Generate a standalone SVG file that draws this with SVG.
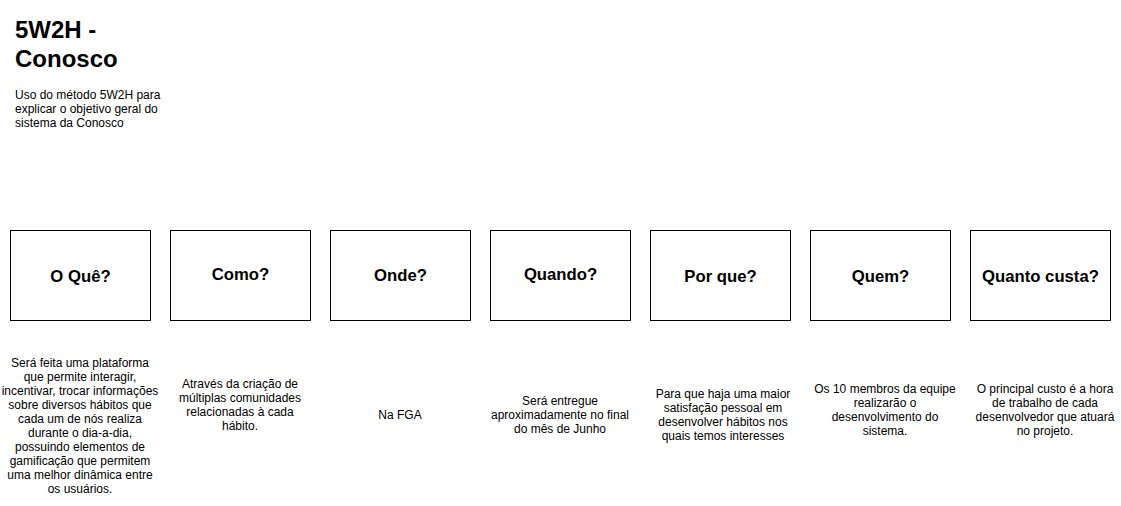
<svg xmlns="http://www.w3.org/2000/svg" width="1121" height="506" viewBox="0 0 1121 506">
<style>
text{font-family:"Liberation Sans",Arial,sans-serif;fill:#000}
.t{font-size:24px;font-weight:bold}
.d{font-size:12px}
.box{fill:#fff;stroke:#000;stroke-width:1}
.lbl{font-size:16.7px;font-weight:bold;text-anchor:middle}
.b{font-size:12px;text-anchor:middle}
</style>
<rect width="1121" height="506" fill="#fff"/>
<g id="title">
<text class="t" x="15" y="38">5W2H -</text>
<text class="t" x="15" y="67">Conosco</text>
<text class="d" x="15" y="99">Uso do método 5W2H para</text>
<text class="d" x="15" y="113">explicar o objetivo geral do</text>
<text class="d" x="15" y="127">sistema da Conosco</text>
</g>
<g id="connectors"></g>
<g id="oque">
<rect class="box" x="10.5" y="230.5" width="140" height="90"/>
<text class="lbl" x="80.5" y="282">O Quê?</text>
</g>
<g id="como">
<rect class="box" x="170.5" y="230.5" width="140" height="90"/>
<text class="lbl" x="240.5" y="280">Como?</text>
</g>
<g id="onde">
<rect class="box" x="330.5" y="230.5" width="140" height="90"/>
<text class="lbl" x="400.5" y="281">Onde?</text>
</g>
<g id="quando">
<rect class="box" x="490.5" y="230.5" width="140" height="90"/>
<text class="lbl" x="560.5" y="280">Quando?</text>
</g>
<g id="porque">
<rect class="box" x="650.5" y="230.5" width="140" height="90"/>
<text class="lbl" x="720.5" y="282">Por que?</text>
</g>
<g id="quem">
<rect class="box" x="810.5" y="230.5" width="140" height="90"/>
<text class="lbl" x="880.5" y="282">Quem?</text>
</g>
<g id="quanto">
<rect class="box" x="970.5" y="230.5" width="140" height="90"/>
<text class="lbl" x="1040.5" y="282">Quanto custa?</text>
</g>
<g id="oque-desc">
<text class="b" x="80" y="367">Será feita uma plataforma</text>
<text class="b" x="80" y="381">que permite interagir,</text>
<text class="b" x="80" y="395">incentivar, trocar informações</text>
<text class="b" x="80" y="409">sobre diversos hábitos que</text>
<text class="b" x="80" y="423">cada um de nós realiza</text>
<text class="b" x="80" y="437">durante o dia-a-dia,</text>
<text class="b" x="80" y="451">possuindo elementos de</text>
<text class="b" x="80" y="465">gamificação que permitem</text>
<text class="b" x="80" y="479">uma melhor dinâmica entre</text>
<text class="b" x="80" y="493">os usuários.</text>
</g>
<g id="como-desc">
<text class="b" x="240" y="388">Através da criação de</text>
<text class="b" x="240" y="402">múltiplas comunidades</text>
<text class="b" x="240" y="416">relacionadas à cada</text>
<text class="b" x="240" y="430">hábito.</text>
</g>
<g id="onde-desc">
<text class="b" x="400" y="419">Na FGA</text>
</g>
<g id="quando-desc">
<text class="b" x="560" y="405">Será entregue</text>
<text class="b" x="560" y="419">aproximadamente no final</text>
<text class="b" x="560" y="433">do mês de Junho</text>
</g>
<g id="porque-desc">
<text class="b" x="723" y="398">Para que haja uma maior</text>
<text class="b" x="723" y="412">satisfação pessoal em</text>
<text class="b" x="723" y="426">desenvolver hábitos nos</text>
<text class="b" x="723" y="440">quais temos interesses</text>
</g>
<g id="quem-desc">
<text class="b" x="885" y="393">Os 10 membros da equipe</text>
<text class="b" x="885" y="407">realizarão o</text>
<text class="b" x="885" y="421">desenvolvimento do</text>
<text class="b" x="885" y="435">sistema.</text>
</g>
<g id="quanto-desc">
<text class="b" x="1045" y="393">O principal custo é a hora</text>
<text class="b" x="1045" y="407">de trabalho de cada</text>
<text class="b" x="1045" y="421">desenvolvedor que atuará</text>
<text class="b" x="1045" y="435">no projeto.</text>
</g>
</svg>
